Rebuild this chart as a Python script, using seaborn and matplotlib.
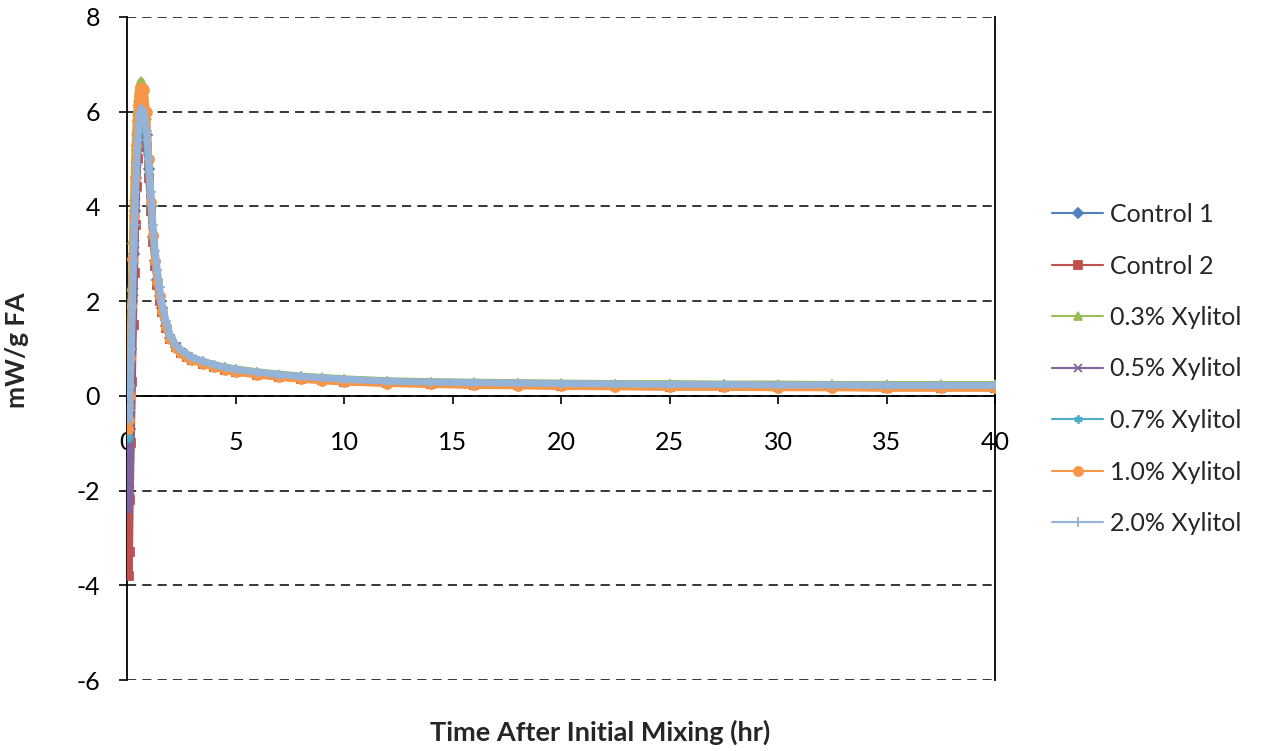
import numpy as np
import pandas as pd
import matplotlib.pyplot as plt
import seaborn as sns

sns.set_style('white')
plt.rcParams['font.family'] = ['Lato', 'DejaVu Sans']
plt.rcParams['axes.unicode_minus'] = False

# time after mixing (hr), shared by all runs
hours = [0, 0.03, 0.06, 0.09, 0.12, 0.15, 0.2, 0.25, 0.3, 0.35, 0.4, 0.45, 0.5, 0.55,
         0.6, 0.65, 0.7, 0.75, 0.8, 0.9, 1.0, 1.1, 1.2, 1.3, 1.4, 1.5, 1.6, 1.8, 2.0,
         2.25, 2.5, 2.75, 3.0, 3.5, 4.0, 4.5, 5.0, 6, 7, 8, 9, 10, 12, 14, 16, 18, 20,
         22.5, 25, 27.5, 30, 32.5, 35, 37.5, 40]

# heat flow mW/g FA
control_1 = [0.1, -0.4, -0.9, -1.1, -0.7, 0.0, 1.0, 2.0, 3.0, 3.9, 4.6, 5.2, 5.6, 5.9,
             6.1, 6.2, 6.2, 6.1, 5.95, 5.5, 4.8, 4.0, 3.35, 2.85, 2.45, 2.1, 1.85,
             1.47, 1.22, 1.04, 0.92, 0.84, 0.77, 0.69, 0.62, 0.56, 0.52, 0.46, 0.41, 0.37,
             0.34, 0.31, 0.28, 0.26, 0.24, 0.23, 0.22, 0.21, 0.2, 0.2, 0.19, 0.19, 0.18, 0.18, 0.18]
control_2 = [0.0, -1.2, -2.7, -3.8, -3.3, -2.2, -1.0, 0.3, 1.5, 2.6, 3.6, 4.4, 5.0, 5.5,
             5.8, 5.95, 5.95, 5.85, 5.7, 5.25, 4.6, 3.9, 3.25, 2.75, 2.35, 2.0, 1.78,
             1.44, 1.2, 1.03, 0.91, 0.83, 0.76, 0.68, 0.61, 0.55, 0.51, 0.45, 0.4, 0.36,
             0.33, 0.3, 0.27, 0.25, 0.23, 0.22, 0.21, 0.2, 0.19, 0.19, 0.18, 0.18, 0.17, 0.17, 0.17]
xyl_03 = [0.2, 0.0, -0.2, 0.1, 0.6, 1.3, 2.3, 3.3, 4.2, 5.0, 5.6, 6.0, 6.3, 6.5,
          6.6, 6.65, 6.6, 6.5, 6.35, 5.9, 5.0, 4.1, 3.4, 2.85, 2.45, 2.12, 1.87,
          1.48, 1.24, 1.07, 0.96, 0.88, 0.81, 0.73, 0.66, 0.61, 0.57, 0.51, 0.46, 0.42,
          0.39, 0.36, 0.32, 0.3, 0.29, 0.28, 0.27, 0.26, 0.26, 0.25, 0.25, 0.24, 0.24, 0.24, 0.24]
xyl_05 = [0.0, -0.8, -1.8, -2.4, -2.0, -1.2, -0.2, 1.0, 2.2, 3.2, 4.1, 4.8, 5.3, 5.7,
          5.95, 6.05, 6.05, 5.95, 5.8, 5.35, 4.7, 3.95, 3.3, 2.8, 2.4, 2.05, 1.8,
          1.46, 1.21, 1.04, 0.92, 0.84, 0.78, 0.7, 0.63, 0.57, 0.53, 0.47, 0.42, 0.38,
          0.35, 0.32, 0.29, 0.27, 0.25, 0.24, 0.23, 0.22, 0.21, 0.21, 0.2, 0.2, 0.19, 0.19, 0.19]
xyl_07 = [0.1, -0.3, -0.8, -0.9, -0.5, 0.2, 1.2, 2.2, 3.2, 4.0, 4.7, 5.2, 5.6, 5.9,
          6.05, 6.1, 6.1, 6.0, 5.85, 5.4, 4.75, 4.0, 3.35, 2.85, 2.45, 2.1, 1.84,
          1.49, 1.24, 1.06, 0.94, 0.86, 0.79, 0.71, 0.64, 0.58, 0.54, 0.48, 0.43, 0.39,
          0.36, 0.33, 0.29, 0.27, 0.26, 0.25, 0.24, 0.23, 0.22, 0.22, 0.21, 0.21, 0.2, 0.2, 0.2]
xyl_10 = [0.1, -0.2, -0.7, -0.5, 0.0, 0.8, 1.9, 2.9, 3.8, 4.6, 5.3, 5.8, 6.15, 6.35,
          6.5, 6.5, 6.5, 6.5, 6.45, 6.0, 5.0, 4.1, 3.4, 2.85, 2.4, 2.1, 1.8,
          1.45, 1.2, 1.02, 0.9, 0.82, 0.75, 0.67, 0.6, 0.54, 0.5, 0.44, 0.39, 0.35,
          0.32, 0.29, 0.26, 0.24, 0.22, 0.21, 0.2, 0.19, 0.18, 0.18, 0.17, 0.17, 0.16, 0.16, 0.16]
xyl_20 = [0.2, 0.0, -0.3, -0.5, -0.3, 0.2, 1.0, 1.9, 2.8, 3.6, 4.3, 4.9, 5.4, 5.75,
          5.95, 6.05, 6.05, 6.0, 5.9, 5.6, 5.0, 4.3, 3.6, 3.05, 2.65, 2.3, 1.98,
          1.58, 1.27, 1.08, 0.96, 0.88, 0.81, 0.73, 0.66, 0.6, 0.56, 0.5, 0.45, 0.41,
          0.38, 0.35, 0.31, 0.29, 0.28, 0.27, 0.26, 0.25, 0.24, 0.24, 0.23, 0.23, 0.22, 0.22, 0.22]

series = ['Control 1', 'Control 2', '0.3% Xylitol', '0.5% Xylitol',
          '0.7% Xylitol', '1.0% Xylitol', '2.0% Xylitol']
values = [control_1, control_2, xyl_03, xyl_05, xyl_07, xyl_10, xyl_20]
colors = ['#4F81BD', '#C0504D', '#9BBB59', '#8064A2', '#4BACC6', '#F79646', '#95B3D7']
markers = ['D', 's', '^', 'x', (6, 2, 0), 'o', '+']
msizes = [5, 6, 6, 6, 6, 6.5, 7]

fig = plt.figure(figsize=(12.62, 7.51), dpi=100)
ax = fig.add_axes([127/1262, 1-680/751, (995-127)/1262, (680-17)/751])

for name, vals, c, m, ms in zip(series, values, colors, markers, msizes):
    sns.lineplot(x=hours, y=vals, color=c, marker=m, markersize=ms,
                 markeredgecolor=c, markeredgewidth=1.3, lw=5,
                 label=name, ax=ax, zorder=3)

ax.set_xlim(0, 40)
ax.set_ylim(-6, 8)
ax.set_xticks(np.arange(0, 41, 5))
ax.set_yticks(np.arange(-6, 9, 2))

# dashed horizontal grid, excel style
ax.yaxis.grid(True, color='black', linestyle=(0, (6, 4)), lw=1.1)
ax.xaxis.grid(False)

ax.spines['top'].set_visible(False)
ax.spines['bottom'].set_position(('data', 0))
for s in ['left', 'bottom', 'right']:
    ax.spines[s].set_color('black')
    ax.spines[s].set_linewidth(1.3)
    ax.spines[s].set_zorder(2.5)

ax.tick_params(axis='x', direction='out', length=6, width=1.2, pad=19,
               labelsize=18, colors='black', bottom=True)
ax.tick_params(axis='y', direction='out', length=6, width=1.2, pad=13.5,
               labelsize=18, colors='black', left=True)

ax.set_xlabel('')
ax.set_ylabel('')
fig.text(600/1262, 1-732/751, 'Time After Initial Mixing (hr)', ha='center', va='center',
         fontsize=19.5, fontweight='bold')
fig.text(17/1262, 1-350/751, 'mW/g FA', ha='center', va='center', rotation=90,
         fontsize=19, fontweight='bold')

handles, labels = ax.get_legend_handles_labels()
leg = ax.legend(handles, labels, loc='center left', bbox_to_anchor=(1052/1262, 1-369/751),
                bbox_transform=fig.transFigure, frameon=False, fontsize=18,
                handlelength=2.05, handletextpad=0.28, labelspacing=1.14,
                borderpad=0, borderaxespad=0)
for line in leg.get_lines():
    line.set_linewidth(1.5)

fig.savefig('out.png', dpi=100)
